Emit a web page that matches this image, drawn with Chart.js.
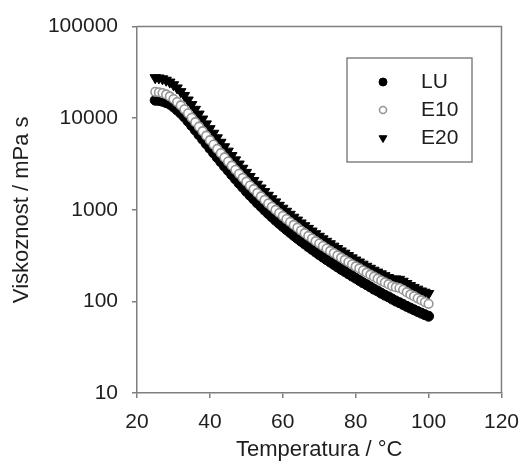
<!DOCTYPE html>
<html>
<head>
<meta charset="utf-8">
<script src="https://cdn.jsdelivr.net/npm/chart.js@4/dist/chart.umd.min.js"></script>
<style>
html,body{margin:0;padding:0;background:#fff;}
#c{display:block;}
</style>
</head>
<body>
<canvas id="c" width="531" height="473"></canvas>
<script>
// Temperature (°C)
const temperature = [25,26,27,28,29,30,31,32,33,34,35,36,37,38,39,40,41,42,43,44,45,46,47,48,49,50,51,52,53,54,55,56,57,58,59,60,61,62,63,64,65,66,67,68,69,70,71,72,73,74,75,76,77,78,79,80,81,82,83,84,85,86,87,88,89,90,91,92,93,94,95,96,97,98,99,100];
// Viscosity (mPa s)
const viscLU = [15700,15600,15300,14800,14200,13300,12300,11300,10300,9250,
  8300,7410,6610,5890,5250,4680,4180,3730,3340,2990,
  2690,2410,2170,1950,1760,1590,1440,1310,1190,1090,
  993,910,836,769,710,656,608,564,524,488,
  454,424,395,370,346,324,304,286,269,253,
  238,224,212,200,189,179,169,160,152,144,
  136,130,123,117,112,106,101,96.8,92.5,88.3,
  84.5,80.9,77.6,74.5,71.6,68.9];
const viscE10 = [19400,19200,18800,18200,17300,16200,15000,13800,12500,11300,
  10100,9060,8090,7210,6440,5750,5150,4620,4150,3730,
  3360,3030,2730,2470,2230,2030,1840,1680,1530,1400,
  1280,1170,1080,998,923,855,793,736,684,638,
  594,556,519,486,455,428,402,378,356,337,
  318,300,284,269,254,241,229,217,206,196,
  186,177,169,161,154,147,143,140,134,126,
  119,114,108,103,98.4,94.0];
const viscE20 = [27700,27500,26900,26000,24800,23200,21400,19500,17700,15800,
  14100,12500,11100,9790,8670,7690,6850,6110,5460,4880,
  4370,3910,3510,3160,2840,2560,2310,2090,1900,1730,
  1580,1440,1320,1220,1120,1040,964,893,830,773,
  719,671,627,586,548,514,482,453,426,401,
  378,356,336,317,299,283,269,255,242,230,
  219,209,200,191,182,175,176,174,166,157,
  149,142,136,130,126,122];
const seriesNames = ['LU','E10','E20'];
const yTickValues = [10,100,1000,10000,100000];
const xTickMin = 20, xTickMax = 120, xTickStep = 20;
const xTitle = 'Temperatura / °C';
const yTitle = 'Viskoznost / mPa s';

const FONT = "'Liberation Sans', Arial, sans-serif";
const TXT = '#1e1e1e';
const AX = '#7f7f7f';

function pts(v){ return temperature.map((t,i)=>({x:t,y:v[i]})); }

const styles = [
  {pointStyle:'circle', radius:5, bg:'#000', border:'#000', bw:1, rot:0},
  {pointStyle:'circle', radius:4.3, bg:'#fff', border:'#959595', bw:1.6, rot:0},
  {pointStyle:'triangle', radius:6, bg:'#000', border:'#000', bw:1, rot:180}
];
const values = [viscLU, viscE10, viscE20];
const orders = [1, 0, 2];

const datasets = seriesNames.map((n,i)=>({
  label:n,
  data:pts(values[i]),
  showLine:false,
  order:orders[i],
  pointStyle:styles[i].pointStyle,
  pointRadius:styles[i].radius,
  pointRotation:styles[i].rot,
  pointBackgroundColor:styles[i].bg,
  pointBorderColor:styles[i].border,
  pointBorderWidth:styles[i].bw
}));

function drawMarker(ctx, s, x, y, r){
  ctx.save();
  ctx.fillStyle = s.bg; ctx.strokeStyle = s.border; ctx.lineWidth = s.bw;
  ctx.beginPath();
  if (s.pointStyle === 'triangle'){
    ctx.moveTo(x - r*0.87, y - r*0.5);
    ctx.lineTo(x + r*0.87, y - r*0.5);
    ctx.lineTo(x, y + r);
    ctx.closePath();
  } else {
    ctx.arc(x, y, r, 0, Math.PI*2);
  }
  ctx.fill(); ctx.stroke();
  ctx.restore();
}

const framePlugin = {
  id:'frame',
  afterDraw(chart){
    const {ctx, chartArea:a} = chart;
    ctx.save();
    ctx.strokeStyle = AX; ctx.lineWidth = 1.5;
    ctx.beginPath();
    ctx.moveTo(a.left, a.top); ctx.lineTo(a.right, a.top); ctx.lineTo(a.right, a.bottom);
    ctx.stroke();
    // legend box
    const bx = 347, by = 58, bw = 125, bh = 104;
    ctx.strokeStyle = '#707070'; ctx.lineWidth = 1.3;
    ctx.strokeRect(bx, by, bw, bh);
    ctx.font = '21px ' + FONT;
    ctx.textBaseline = 'middle';
    ctx.textAlign = 'left';
    const rows = [82, 110, 138];
    const mr = [4, 3.5, 4.5];
    chart.data.datasets.forEach((d,i)=>{
      drawMarker(ctx, styles[i], 383, rows[i], mr[i]);
      ctx.fillStyle = TXT;
      ctx.fillText(d.label, 421, rows[i]);
    });
    ctx.restore();
  }
};

new Chart(document.getElementById('c'), {
  type:'scatter',
  data:{datasets},
  options:{
    responsive:false,
    animation:false,
    events:[],
    layout:{padding:{left:0, top:23, right:29, bottom:0}},
    plugins:{legend:{display:false}, tooltip:{enabled:false}},
    scales:{
      x:{
        type:'linear', min:xTickMin, max:xTickMax,
        afterFit(s){ s.height = 80; },
        ticks:{stepSize:xTickStep, color:TXT, font:{family:FONT, size:21}, padding:12},
        grid:{drawOnChartArea:false, drawTicks:true, tickLength:5, color:AX, lineWidth:1.5},
        border:{color:AX, width:1.5},
        title:{display:true, text:xTitle, color:TXT, font:{family:FONT, size:22}, padding:{top:0, bottom:10}}
      },
      y:{
        type:'logarithmic', min:10, max:100000,
        afterFit(s){ s.width = 137; },
        afterBuildTicks(s){ s.ticks = yTickValues.map(v=>({value:v, major:true})); },
        ticks:{color:TXT, font:{family:FONT, size:21}, padding:14, autoSkip:false,
          callback:(v)=>String(v)},
        grid:{drawOnChartArea:false, drawTicks:true, tickLength:5, color:AX, lineWidth:1.5},
        border:{color:AX, width:1.5},
        title:{display:true, text:yTitle, color:TXT, font:{family:FONT, size:22}, padding:{top:9, bottom:0}}
      }
    }
  },
  plugins:[framePlugin]
});
</script>
</body>
</html>
